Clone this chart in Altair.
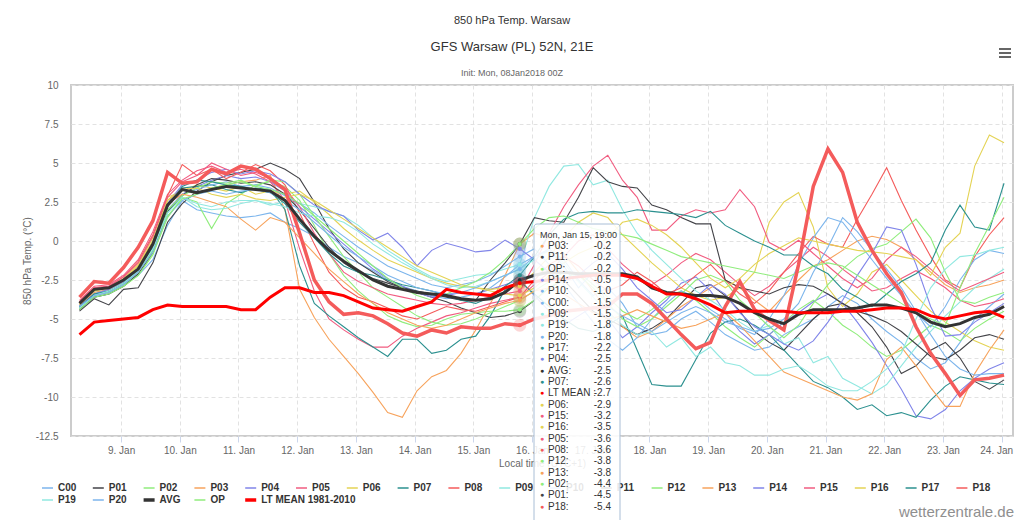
import altair as alt
import pandas as pd

FONT = "Liberation Sans"

series_names = ["C00", "P01", "P02", "P03", "P04", "P05", "P06", "P07", "P08", "P09",
                "P10", "P11", "P12", "P13", "P14", "P15", "P16", "P17", "P18", "P19",
                "P20", "AVG", "OP", "LT MEAN 1981-2010"]
series_colors = ["#7cb5ec", "#434348", "#90ed7d", "#f7a35c", "#8085e9", "#f15c80", "#e4d354",
                 "#2b908f", "#f45b5b", "#91e8e1", "#7cb5ec", "#434348", "#90ed7d", "#f7a35c",
                 "#8085e9", "#f15c80", "#e4d354", "#2b908f", "#f45b5b", "#91e8e1", "#7cb5ec",
                 "#333333", "#90ed7d", "#ff0000"]

# 6-hourly values from 08 Jan 06Z (07:00 local) to 24 Jan 00Z
temps = {
    "C00": [-4.3,-3.6,-3.4,-2.8,-2.2,-1.2,1.0,2.6,2.0,1.8,1.6,1.5,1.6,1.8,1.2]
         + [0.8,0.3,-0.4,-1.0,-1.4,-1.9,-2.5,-2.9,-3.2,-3.5,-3.7,-3.6,-3.4,-3.0,-2.3,-1.5]
         + [-1.0,-0.5,-1.2,-2.5,-3.5,-3.0,-4.0,-5.5,-6.0,-5.8,-5.0,-4.5,-5.2,-6.0,-6.5,-7.0,-6.8,-6.0,-5.5,-5.0,-4.2,-3.5,-4.0,-5.0,-5.8,-6.5,-7.5,-8.2,-7.8,-6.5,-5.0,-4.2,-3.4],
    "P01": [-4.5,-3.7,-4.1,-3.1,-3.0,-1.4,1.2,2.4,3.2,3.8,4.2,4.4,4.6,5.0,4.6]
         + [4.0,2.5,0.8,-0.5,-1.4,-2.0,-2.6,-3.0,-3.3,-3.6,-3.9,-4.3,-4.6,-4.9,-4.8,-4.5]
         + [-3.8,-3.0,-2.5,-3.5,-4.5,-5.0,-5.5,-6.0,-5.6,-5.0,-4.0,-3.0,-2.8,-3.5,-4.5,-5.8,-6.5,-7.0,-6.0,-5.0,-4.2,-4.0,-4.6,-5.5,-6.8,-8.5,-8.0,-7.0,-6.5,-7.5,-9.0,-9.5,-8.9],
    "P02": [-4.4,-3.5,-3.3,-2.9,-2.2,-0.8,1.5,2.8,2.5,0.8,2.4,3.0,3.6,3.8,3.5]
         + [2.6,1.0,-0.8,-2.2,-3.2,-4.0,-4.8,-5.2,-5.5,-5.4,-5.0,-4.7,-4.6,-4.5,-4.5,-4.4]
         + [-3.8,-3.0,-2.4,-2.0,-2.8,-3.6,-4.5,-5.0,-4.4,-3.6,-3.2,-3.8,-4.6,-5.5,-6.2,-6.8,-6.0,-5.2,-4.4,-3.8,-4.5,-5.4,-6.0,-6.8,-7.4,-7.0,-6.2,-5.4,-5.8,-6.4,-5.6,-5.0,-4.5],
    "P03": [-4.0,-3.1,-3.0,-2.5,-1.6,0.0,2.6,3.4,3.0,3.4,3.6,3.8,3.9,4.2,2.0]
         + [-3.1,-4.9,-6.3,-7.4,-8.5,-9.7,-11.0,-11.3,-9.6,-8.7,-8.3,-7.2,-5.7,-4.0,-2.2,-0.2]
         + [0.5,0.2,-0.8,-2.0,-3.2,-4.5,-5.5,-6.2,-5.8,-5.0,-4.2,-3.6,-3.0,-2.5,-3.0,-3.8,-4.5,-3.5,-2.5,-1.6,-1.2,-0.6,0.0,0.3,0.1,-0.4,-1.2,-2.0,-2.8,-3.3,-3.0,-2.8,-2.5],
    "P04": [-4.2,-3.4,-3.2,-2.7,-1.9,-0.6,2.0,3.0,3.5,3.9,4.2,4.0,4.1,3.8,3.2]
         + [2.2,1.4,0.6,-0.2,-1.0,-1.8,-2.4,-2.9,-3.3,-3.6,-3.5,-3.3,-3.4,-3.1,-2.8,-2.5]
         + [-3.5,-4.5,-5.4,-4.8,-4.2,-5.0,-6.2,-5.5,-4.6,-3.8,-2.7,-2.3,-3.2,-4.6,-5.8,-6.6,-6.0,-5.2,-4.6,-3.9,-3.4,-4.0,-5.2,-6.5,-8.0,-9.5,-11.2,-11.4,-10.8,-9.6,-8.8,-8.2,-7.8],
    "P05": [-3.8,-2.9,-2.8,-2.2,-1.2,0.6,3.0,3.9,4.5,4.8,4.4,4.6,4.3,3.8,2.6]
         + [-0.5,-3.2,-5.0,-5.7,-6.3,-6.8,-6.8,-6.1,-5.6,-5.2,-4.8,-4.6,-4.3,-4.0,-3.8,-3.6]
         + [-2.8,-2.0,-1.0,0.0,0.4,-0.5,-1.5,-2.3,-2.8,-2.2,-1.4,-0.8,-1.2,-2.0,-2.8,-3.5,-2.9,-2.0,-1.2,-0.4,-1.0,-1.8,-2.5,-3.2,-3.0,-2.4,-1.9,-2.4,-3.0,-3.8,-4.2,-4.0,-3.7],
    "P06": [-4.0,-3.2,-3.0,-2.4,-1.5,0.2,2.8,3.2,3.6,3.4,3.2,3.5,3.0,3.2,3.0]
         + [3.2,2.5,1.7,0.8,0.06,-0.6,-1.2,-1.6,-2.0,-2.4,-2.7,-2.9,-3.0,-3.1,-3.0,-2.9]
         + [-2.0,-1.0,0.2,1.2,1.8,1.5,0.4,-0.5,-1.4,-2.2,-3.0,-3.5,-3.8,-3.6,-3.0,-2.0,1.2,2.5,3.1,0.9,-3.0,-4.2,-3.4,-2.0,-1.5,-2.5,-3.5,-4.5,-5.2,-5.8,-6.4,-6.8,-7.0],
    "P07": [-4.3,-3.5,-3.2,-2.7,-1.8,-0.4,2.2,3.4,3.5,3.6,3.3,3.1,3.4,3.3,2.0]
         + [-1.6,-4.0,-4.8,-5.5,-6.2,-6.8,-7.4,-6.3,-6.3,-7.2,-7.0,-6.3,-6.1,-4.8,-3.1,-2.6]
         + [-3.4,-4.2,-5.0,-5.6,-5.8,-5.4,-4.8,-7.0,-9.2,-9.3,-9.3,-7.6,-5.9,-5.2,-5.0,-5.4,-6.0,-7.0,-8.0,-9.0,-9.4,-10.0,-10.8,-10.5,-11.2,-11.0,-11.3,-10.2,-9.3,-8.7,-8.9,-9.1,-9.2],
    "P08": [-3.9,-3.0,-2.9,-2.3,-1.3,0.4,2.9,4.9,4.2,4.6,4.0,4.4,4.9,4.5,3.6]
         + [1.8,-0.2,-2.0,-3.0,-3.6,-3.9,-4.3,-4.8,-5.0,-4.6,-4.2,-4.4,-4.5,-4.2,-3.9,-3.6]
         + [-2.5,-1.5,-1.0,-1.6,-2.5,-3.2,-2.8,-2.0,-2.6,-3.4,-3.0,-2.2,-1.5,-2.5,-3.4,-4.0,-3.2,-2.0,-0.8,0.3,-0.2,-0.4,1.4,3.0,4.7,2.6,0.7,-1.0,-2.5,-3.0,-1.0,0.4,1.5],
    "P09": [-4.1,-3.3,-3.1,-2.6,-1.7,-0.2,2.0,2.8,2.4,2.2,2.5,2.6,2.6,2.3,2.5]
         + [2.4,2.2,1.9,1.6,1.0,0.2,-0.6,-1.2,-1.8,-2.3,-2.6,-2.4,-2.2,-2.1,-1.8,-1.5]
         + [1.5,3.5,4.8,4.9,3.6,3.9,2.0,0.5,-0.6,-1.5,-2.4,-3.2,-3.8,-4.4,-5.2,-5.8,-5.4,-6.6,-6.2,-7.8,-7.4,-8.8,-9.3,-9.8,-9.2,-8.0,-6.8,-5.8,-4.8,-3.9,-3.0,-2.4,-1.8],
    "P10": [-4.2,-3.4,-3.2,-2.7,-1.9,-0.5,1.8,3.0,3.3,3.6,3.8,3.5,3.6,3.4,2.9]
         + [2.4,1.8,1.0,0.3,-0.4,-1.0,-1.6,-2.0,-2.4,-2.8,-3.0,-2.8,-2.6,-2.2,-1.6,-1.0]
         + [-0.5,-1.5,-2.8,-4.0,-5.2,-6.3,-7.0,-6.2,-5.0,-4.0,-3.2,-3.6,-4.4,-5.0,-5.6,-6.0,-5.0,-3.5,-1.5,0.2,1.5,1.2,0.0,-1.2,-2.4,-3.5,-4.6,-5.5,-4.2,-2.5,-1.2,-0.6,-0.8],
    "P11": [-4.4,-3.6,-3.4,-2.9,-2.1,-0.7,1.9,2.9,3.6,4.0,3.9,3.7,3.8,3.6,3.0]
         + [2.0,0.8,-0.4,-1.4,-2.0,-2.4,-2.7,-3.0,-3.2,-3.4,-3.6,-3.8,-3.8,-2.5,-1.4,-0.2]
         + [1.5,1.3,1.2,2.8,4.7,3.8,3.5,3.4,2.3,2.0,1.5,1.1,1.1,-2.5,-3.0,-3.2,-3.4,-3.0,-2.8,-2.9,-3.4,-4.0,-4.5,-4.8,-5.2,-5.8,-6.6,-7.4,-7.6,-7.0,-6.2,-6.0,-6.3],
    "P12": [-4.3,-3.5,-3.3,-2.8,-2.0,-0.6,2.0,2.9,3.4,3.8,3.7,3.9,3.5,3.9,3.8]
         + [3.0,1.6,0.3,-1.0,-2.0,-3.0,-3.6,-4.2,-4.8,-5.2,-5.4,-5.3,-5.0,-4.6,-4.2,-3.8]
         + [-3.2,-2.6,-2.0,-2.2,-3.0,-4.0,-5.0,-5.5,-5.0,-4.2,-3.4,-2.5,-2.2,-2.6,-3.8,-4.6,-5.5,-6.2,-5.4,-4.0,-2.8,-1.8,-1.0,-0.5,-0.2,0.6,1.4,0.2,-2.0,-3.8,-4.0,-3.6,-3.3],
    "P13": [-4.1,-3.3,-3.1,-2.6,-1.7,-0.2,2.4,3.0,2.8,2.5,2.2,1.4,0.7,1.5,1.2]
         + [0.2,-0.8,-1.8,-2.6,-3.4,-4.0,-4.6,-5.0,-5.4,-5.6,-5.4,-5.0,-4.6,-4.3,-4.0,-3.8]
         + [-3.2,-3.0,-3.4,-4.0,-4.6,-5.0,-4.8,-4.4,-4.8,-5.2,-5.6,-5.4,-5.0,-4.6,-5.4,-6.4,-7.4,-8.4,-8.8,-9.2,-9.6,-10.0,-10.2,-9.8,-7.6,-6.8,-8.0,-9.4,-10.6,-10.6,-8.5,-7.0,-5.7],
    "P14": [-4.2,-3.4,-3.1,-2.6,-1.7,-0.1,2.4,3.6,3.9,4.4,4.6,4.3,4.5,4.3,3.8]
         + [3.0,2.3,1.9,1.6,0.7,0.06,0.5,-0.4,-1.6,-0.6,-0.15,-0.4,-0.7,-0.6,0.06,-0.5]
         + [-1.2,-2.0,-2.6,-2.2,-1.4,-0.8,-1.8,-3.0,-3.8,-4.6,-4.4,-3.6,-2.8,-3.4,-4.6,-5.5,-6.0,-6.6,-7.0,-6.4,-5.2,-3.8,-2.2,-0.8,0.9,0.7,-1.5,-4.2,-6.1,-6.0,-5.2,-4.6,-4.0],
    "P15": [-3.9,-3.0,-2.9,-2.3,-1.4,0.3,2.8,3.8,4.2,5.0,4.6,4.2,4.4,4.0,3.4]
         + [2.2,0.5,-0.8,-2.0,-2.6,-3.0,-3.4,-3.6,-3.8,-4.0,-4.1,-4.0,-3.8,-3.6,-3.4,-3.2]
         + [-1.5,0.5,2.2,3.6,4.8,5.5,3.9,2.8,0.7,0.7,1.6,2.0,1.8,2.0,3.3,2.2,-0.1,-0.6,0.05,-0.8,-1.6,-2.4,-3.0,-2.4,-1.2,-0.4,-1.0,-1.8,-2.6,-3.2,-2.8,-2.4,-2.0],
    "P16": [-4.0,-3.2,-3.0,-2.5,-1.6,0.0,2.6,3.3,3.4,3.0,2.8,3.0,2.7,2.6,2.8]
         + [3.0,2.6,2.0,1.4,0.8,0.2,-0.4,-1.0,-1.6,-2.0,-2.4,-2.8,-3.0,-3.2,-3.4,-3.5]
         + [-3.0,-2.2,-1.4,-0.8,-0.4,0.2,1.2,1.4,1.0,0.4,-0.4,-1.4,-2.4,-3.0,-2.4,-1.5,-0.8,-0.3,0.2,0.0,-0.2,-0.4,-0.6,-0.7,-0.8,-1.0,-1.2,-2.2,-0.4,0.5,4.8,6.8,6.3],
    "P17": [-4.2,-3.4,-3.2,-2.7,-1.8,-0.4,2.2,3.5,3.9,3.8,3.6,3.5,3.3,3.1,2.4]
         + [1.2,0.2,-0.8,-1.6,-2.0,-2.2,-2.5,-2.8,-3.0,-3.2,-3.5,-3.8,-4.0,-3.6,-2.9,-2.2]
         + [-1.0,0.4,1.4,1.8,1.9,1.8,1.8,2.0,1.9,1.8,1.7,1.5,1.9,1.0,0.5,0.0,-0.4,-0.9,-0.9,-1.6,-2.1,-3.1,-3.6,-4.2,-3.4,-2.6,-2.1,-1.4,0.7,2.3,0.9,0.7,3.7],
    "P18": [-3.6,-2.6,-2.7,-1.7,-0.4,1.3,4.4,3.7,3.8,4.6,4.3,4.8,4.6,4.0,3.3]
         + [0.5,-2.5,-3.9,-4.7,-4.6,-4.8,-5.3,-5.9,-6.1,-5.7,-5.9,-5.5,-5.6,-5.6,-5.3,-5.4]
         + [-5.0,-4.8,-4.5,-4.4,-4.3,-4.2,-3.4,-3.4,-4.0,-5.0,-6.0,-6.9,-6.5,-4.2,-2.6,-4.4,-5.1,-5.7,-1.5,3.5,5.9,4.4,1.2,-0.6,-2.1,-3.3,-5.5,-7.2,-8.5,-9.9,-8.9,-8.8,-8.6],
    "P19": [-4.3,-3.5,-3.2,-2.7,-1.9,-0.5,1.8,2.8,2.2,2.0,2.1,2.4,2.6,2.4,2.2]
         + [1.8,1.6,1.5,1.2,0.6,-0.2,-0.8,-1.4,-1.9,-2.4,-2.8,-3.0,-2.9,-2.6,-2.2,-1.8]
         + [-1.2,-0.6,-1.4,-2.6,-3.6,-4.6,-5.4,-6.0,-5.8,-6.8,-6.2,-7.4,-6.8,-7.8,-8.0,-8.6,-8.6,-8.2,-8.0,-8.6,-9.3,-9.6,-9.6,-9.0,-8.2,-7.2,-5.0,-3.0,-1.8,-1.0,-0.9,-0.6,-0.4],
    "P20": [-4.2,-3.5,-3.3,-2.8,-2.0,-0.7,1.6,2.6,3.0,3.2,3.0,3.2,3.3,3.1,2.6]
         + [2.0,1.2,0.4,-0.4,-1.0,-1.6,-2.2,-2.6,-3.0,-3.2,-3.4,-3.3,-3.0,-2.6,-2.2,-1.8]
         + [-1.0,-0.6,-1.6,-3.0,-2.0,-4.2,-4.8,-5.3,-5.8,-5.2,-4.6,-4.2,-4.6,-5.2,-5.5,-5.8,-5.6,-5.0,-4.0,-2.0,-0.4,1.5,0.6,-0.6,-1.8,-3.0,-4.5,-6.0,-7.4,-8.2,-8.6,-8.5,-8.5],
    "AVG": [-4.0,-3.1,-3.0,-2.5,-1.8,-0.2,2.3,3.3,3.1,3.3,3.5,3.4,3.3,3.2,2.6]
         + [1.4,0.3,-0.6,-1.3,-1.9,-2.5,-2.9,-3.1,-3.3,-3.4,-3.5,-3.7,-3.8,-3.7,-3.3,-2.5]
         + [-2.2,-2.0,-2.0,-2.1,-2.1,-2.1,-2.1,-2.3,-3.0,-3.3,-3.4,-3.5,-3.5,-3.6,-4.0,-4.6,-5.0,-5.3,-4.7,-4.4,-4.4,-4.4,-4.3,-4.1,-4.1,-4.3,-4.6,-5.2,-5.5,-5.3,-4.9,-4.7,-4.2],
    "OP":  [-4.4,-3.6,-3.4,-2.9,-2.2,-0.9,1.6,2.7,3.0,3.4,3.6,3.8,3.5,3.3,3.0]
         + [2.4,1.6,0.8,0.0,-0.8,-1.6,-2.4,-3.0,-3.5,-3.8,-3.4,-3.0,-2.6,-2.0,-1.2,-0.2]
         + [0.8,1.5,1.6,1.2,0.8,0.6,0.4,0.2,-0.2,-0.6,-1.0,-1.2,-1.4,-1.6,-1.8,-2.0,-2.2,-2.4,-2.0,-1.6,-1.4,-1.6,-2.2,-2.8,-3.4,-4.0,-4.6,-5.0,-5.4,-3.0,-0.8,1.0,2.8],
    "LT MEAN 1981-2010": [-6.0,-5.2,-5.1,-5.0,-4.9,-4.4,-4.1,-4.2,-4.2,-4.2,-4.2,-4.4,-4.4,-3.6,-3.0]
         + [-3.0,-3.3,-3.3,-3.5,-3.9,-4.3,-4.4,-4.5,-4.2,-3.9,-3.1,-3.3,-3.4,-3.5,-3.0,-2.7]
         + [-2.6,-2.5,-2.4,-2.3,-2.2,-2.2,-2.2,-2.4,-2.9,-3.4,-3.4,-3.7,-4.1,-4.6,-4.5,-4.5,-4.5,-4.5,-4.6,-4.6,-4.6,-4.5,-4.5,-4.4,-4.3,-4.3,-4.4,-4.8,-5.0,-4.8,-4.6,-4.5,-4.9],
}
for _k, _v in temps.items():
    assert len(_v) == 64, (_k, len(_v))

# tooltip at Mon, Jan 15, 19:00 (step 30)
tooltip_step = 30
tooltip_order = ["P03", "P11", "OP", "P14", "P10", "C00", "P09", "P19", "P20", "P17", "P04", "AVG",
                 "P07", "LT MEAN 1981-2010", "P06", "P15", "P16", "P05", "P08", "P12", "P13", "P02",
                 "P01", "P18"]
day_ticks = list(range(0, 361, 24))          # hours after 9 Jan 00:00 local
y_ticks = [-12.5, -10, -7.5, -5, -2.5, 0, 2.5, 5, 7.5, 10]

rows = []
for name in series_names:
    for t, v in enumerate(temps[name]):
        rows.append({"series": name, "h": 6 * t - 17, "v": v, "t": t})
df = pd.DataFrame(rows)

color = alt.Color("series:N", scale=alt.Scale(domain=series_names, range=series_colors), legend=None)

X = alt.X("h:Q", scale=alt.Scale(domain=[-20.48, 364.66], nice=False, zero=False),
          axis=alt.Axis(values=day_ticks, labelExpr="(datum.value/24+9) + '. Jan'",
                        title="Local time (UTC+1)", grid=True, gridDash=[4, 3], gridColor="#e2e2e2",
                        tickSize=6, tickColor="#ccd6eb", domain=False, labelPadding=3,
                        labelFontSize=10, labelColor="#666666", labelFlush=15, labelFlushOffset=11,
                        titleFontSize=10, titleFontWeight="normal", titleColor="#666666",
                        titleY=27, titleBaseline="middle"))
Y = alt.Y("v:Q", scale=alt.Scale(domain=[-12.5, 10], nice=False, zero=False),
          axis=alt.Axis(values=y_ticks, labelExpr="toString(datum.value)",
                        title="850 hPa Temp. (°C)", grid=True, gridDash=[4, 3], gridColor="#e2e2e2",
                        ticks=False, domain=False, labelPadding=13, labelFontSize=10,
                        labelColor="#666666", titleFontSize=10, titleFontWeight="normal",
                        titleColor="#666666", titleX=-44, titleY=175.5, titleAngle=270,
                        titleAlign="center", titleBaseline="middle"))

base = alt.Chart(df)
thin_names = [n for n in series_names if n not in ("AVG", "LT MEAN 1981-2010", "P18")]
thin = base.transform_filter(alt.FieldOneOfPredicate(field="series", oneOf=thin_names)) \
    .mark_line(strokeWidth=1.1).encode(x=X, y=Y, color=color)
p18 = base.transform_filter("datum.series == 'P18'").mark_line(strokeWidth=3.5).encode(x=X, y=Y, color=color)
avg = base.transform_filter("datum.series == 'AVG'").mark_line(strokeWidth=3).encode(x=X, y=Y, color=color)
ltm = base.transform_filter("datum.series == 'LT MEAN 1981-2010'").mark_line(strokeWidth=3).encode(x=X, y=Y, color=color)

hover = base.transform_filter(f"datum.t == {tooltip_step}")
halo = hover.mark_circle(size=170, opacity=0.25).encode(x=X, y=Y, color=color)
marker = hover.mark_circle(size=18, opacity=1).encode(x=X, y=Y, color=color)

one = pd.DataFrame({"k": [0]})


def label(text, x, y, size, col, weight="normal", align="center"):
    return alt.Chart(one).mark_text(text=text, fontSize=size, color=col, fontWeight=weight,
                                    align=align, baseline="middle", font=FONT) \
        .encode(x=alt.value(x), y=alt.value(y))


title1 = label("850 hPa Temp. Warsaw", 441, -64, 11, "#333333")
title2 = label("GFS Warsaw (PL) 52N, 21E", 441, -38, 13, "#333333")
title3 = label("Init: Mon, 08Jan2018 00Z", 441, -12, 9, "#666666")
water = label("wetterzentrale.de", 943, 427, 15, "#8f8f8f", align="right")

ham = alt.Chart(pd.DataFrame({"k": [0, 1, 2]})).transform_calculate(hy="-36 + datum.k*4") \
    .mark_rule(color="#666666", strokeWidth=2) \
    .encode(x=alt.value(928), x2=alt.value(940), y=alt.Y("hy:Q", scale=None, axis=None))

# legend
leg = pd.DataFrame({"series": series_names, "idx": list(range(len(series_names)))})
leg_base = alt.Chart(leg).transform_calculate(
    col="datum.idx % 19", row="floor(datum.idx / 19)"
).transform_calculate(
    lx1="datum.col*50.8 - 29", lx2="datum.col*50.8 - 18", tx="datum.col*50.8 - 13",
    ly="datum.row*12 + 403",
    sw="(datum.series == 'AVG' || datum.series == 'LT MEAN 1981-2010') ? 3.5 : 1.5")
leg_sym = leg_base.mark_rule().encode(
    x=alt.X("lx1:Q", scale=None, axis=None), x2="lx2:Q", y=alt.Y("ly:Q", scale=None, axis=None),
    color=color, strokeWidth=alt.StrokeWidth("sw:Q", scale=None))
leg_txt = leg_base.mark_text(align="left", baseline="middle", fontWeight="bold", fontSize=10,
                             color="#333333", font=FONT).encode(
    x=alt.X("tx:Q", scale=None, axis=None), y=alt.Y("ly:Q", scale=None, axis=None), text="series:N")

# tooltip
tip = pd.DataFrame({
    "series": tooltip_order,
    "name": [("LT MEAN :" if n.startswith("LT") else n + ":") for n in tooltip_order],
    "val": ["%.1f" % temps[n][tooltip_step] for n in tooltip_order],
    "i": list(range(len(tooltip_order))),
})
tip_box = alt.Chart(one).mark_rect(fill="white", fillOpacity=0.88, stroke="#a9bed6",
                                   strokeWidth=1, cornerRadius=3).encode(
    x=alt.value(463), x2=alt.value(549), y=alt.value(139), y2=alt.value(445))
tip_head = label("Mon, Jan 15, 19:00", 469, 150, 9, "#333333", align="left")
tip_base = alt.Chart(tip).transform_calculate(ry="161 + datum.i*11.33")
tip_dot = tip_base.mark_text(text="●", fontSize=7, baseline="middle", align="center").encode(
    x=alt.value(471), y=alt.Y("ry:Q", scale=None, axis=None), color=color)
tip_name = tip_base.mark_text(fontSize=10, baseline="middle", align="left", color="#333333",
                              font=FONT).encode(
    x=alt.value(477), y=alt.Y("ry:Q", scale=None, axis=None), text="name:N")
tip_val = tip_base.mark_text(fontSize=10, baseline="middle", align="right", color="#333333",
                             font=FONT).encode(
    x=alt.value(540), y=alt.Y("ry:Q", scale=None, axis=None), text="val:N")

chart = alt.layer(
    thin, p18, avg, ltm, halo, marker,
    title1, title2, title3, ham, water, leg_sym, leg_txt,
    tip_box, tip_head, tip_dot, tip_name, tip_val,
).properties(
    width=942, height=351,
    padding={"left": 63, "top": 77, "right": 3, "bottom": 84},
    autosize=alt.AutoSizeParams(type="none"),
).configure(font=FONT).configure_view(stroke="#cccccc", strokeWidth=2)

chart.save("out.html", embed_options={"renderer": "svg", "actions": False})
